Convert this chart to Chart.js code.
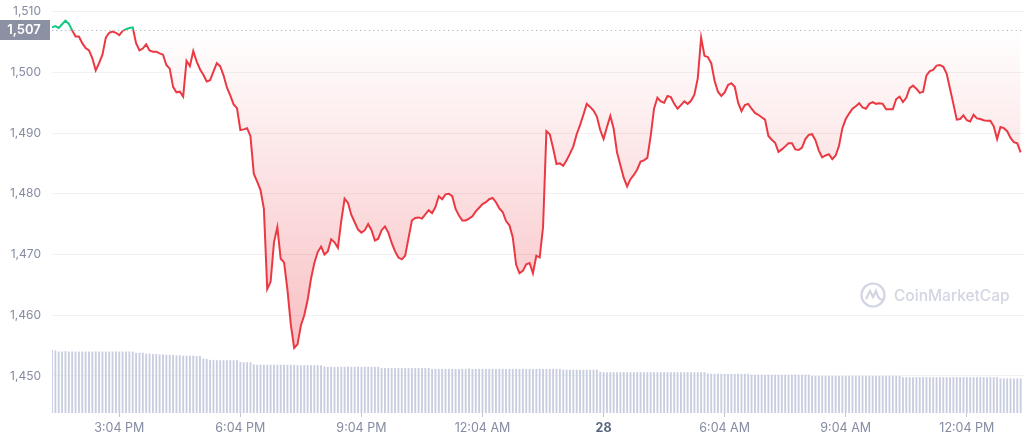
<!DOCTYPE html>
<html>
<head>
<meta charset="utf-8">
<script src="https://cdn.jsdelivr.net/npm/chart.js@4.4.1/dist/chart.umd.min.js"></script>
<style>
  html, body { margin: 0; padding: 0; background: #fff; }
  #wrap { width: 1024px; height: 441px; position: relative; }
</style>
</head>
<body>
<div id="wrap"><canvas id="priceChart"></canvas></div>
<script>
// 5 minute candles, 27 May 1:24 PM -> 28 May 1:24 PM
const startMinutes = 13 * 60 + 24;
const stepMinutes = 5;
const openPrice = 1507;

const price = [
    1507.4, 1507.6, 1507.3, 1507.9, 1508.5, 1508.0, 1506.9, 1505.9, 1505.9, 1504.8,
    1504.0, 1503.6, 1502.3, 1500.3, 1501.5, 1502.9, 1505.7, 1506.5, 1506.7, 1506.5,
    1506.1, 1506.8, 1507.1, 1507.3, 1507.4, 1504.8, 1503.6, 1503.9, 1504.6, 1503.6,
    1503.4, 1503.4, 1503.1, 1502.9, 1501.2, 1500.6, 1497.6, 1496.7, 1496.8, 1496.0,
    1501.9, 1501.0, 1503.5, 1501.8, 1500.5, 1499.6, 1498.5, 1498.7, 1500.1, 1501.5,
    1501.0, 1499.5, 1497.5, 1496.2, 1494.7, 1494.1, 1490.5, 1490.6, 1490.8, 1489.5,
    1483.3, 1482.0, 1480.6, 1477.5, 1464.3, 1465.5, 1472.0, 1474.5, 1469.3, 1468.7,
    1464.2, 1458.5, 1454.6, 1455.2, 1458.3, 1460.0, 1462.5, 1466.0, 1468.6, 1470.4,
    1471.3, 1470.0, 1470.5, 1472.5, 1472.0, 1471.1, 1475.5, 1479.2, 1478.5, 1476.5,
    1475.3, 1474.1, 1473.6, 1474.0, 1475.0, 1474.0, 1472.3, 1472.6, 1474.0, 1474.6,
    1473.6, 1471.9, 1470.5, 1469.5, 1469.2, 1469.8, 1472.7, 1475.6, 1476.0, 1476.1,
    1475.9, 1476.6, 1477.3, 1476.8, 1477.8, 1479.6, 1479.1, 1479.9, 1480.0, 1479.6,
    1477.5, 1476.4, 1475.6, 1475.6, 1475.9, 1476.3, 1477.1, 1477.7, 1478.3, 1478.6,
    1479.1, 1479.3, 1478.6, 1477.6, 1477.0, 1475.5, 1474.8, 1472.8, 1468.3, 1466.9,
    1467.3, 1468.4, 1468.6, 1466.9, 1469.8, 1469.5, 1474.5, 1490.3, 1489.8, 1487.5,
    1484.9, 1485.0, 1484.6, 1485.5, 1486.6, 1487.8, 1489.8, 1491.3, 1493.0, 1494.8,
    1494.3, 1493.7, 1492.7, 1490.5, 1489.0, 1491.0, 1492.8, 1490.7, 1486.8, 1484.7,
    1482.6, 1481.2, 1482.4, 1483.1, 1484.0, 1485.3, 1485.5, 1485.9, 1489.5, 1494.0,
    1495.8, 1495.2, 1495.0, 1496.1, 1495.9, 1494.8, 1494.0, 1494.6, 1495.2, 1494.8,
    1495.3, 1496.3, 1499.0, 1505.7, 1502.7, 1502.5, 1501.5, 1498.6, 1496.8, 1496.1,
    1496.7, 1497.9, 1498.2, 1497.6, 1495.0, 1493.6, 1494.6, 1494.8, 1494.0, 1493.3,
    1493.0, 1492.6, 1492.2, 1489.5, 1488.9, 1488.4, 1486.9, 1487.3, 1487.8, 1488.3,
    1488.3, 1487.3, 1487.2, 1487.6, 1489.0, 1489.7, 1489.8, 1488.8, 1487.1, 1486.0,
    1486.3, 1486.5, 1485.7, 1486.3, 1487.9, 1490.8, 1492.3, 1493.2, 1494.0, 1494.4,
    1494.9, 1494.2, 1494.0, 1494.8, 1495.1, 1494.8, 1494.9, 1494.8, 1493.9, 1493.9,
    1493.9, 1495.6, 1496.0, 1495.1, 1495.8, 1497.4, 1497.8, 1497.3, 1496.6, 1496.8,
    1499.5, 1500.2, 1500.4, 1501.1, 1501.2, 1500.9, 1499.8, 1497.3, 1494.8, 1492.2,
    1492.3, 1492.9, 1492.1, 1491.9, 1493.0, 1492.4, 1492.3, 1492.1, 1492.0, 1492.0,
    1491.1, 1489.0, 1491.0, 1490.8, 1490.3, 1489.2, 1488.5, 1488.3, 1486.8
];

// volume bars (relative units, hidden axis 0-100)
const volume = [
    15.2, 15.1, 14.8, 14.8, 14.9, 14.8, 14.8, 14.8, 14.8, 14.8,
    14.8, 14.8, 14.8, 14.8, 14.8, 14.8, 14.8, 14.8, 14.8, 14.8,
    14.8, 14.8, 14.8, 14.8, 14.8, 14.5, 14.5, 14.5, 14.3, 14.3,
    14.2, 14.2, 14.1, 14.1, 14.0, 14.0, 14.0, 13.9, 13.9, 13.8,
    13.8, 13.8, 13.8, 13.7, 13.7, 13.1, 13.0, 12.8, 12.7, 12.7,
    12.7, 12.7, 12.7, 12.7, 12.7, 12.7, 12.3, 12.2, 12.2, 12.2,
    11.7, 11.6, 11.6, 11.6, 11.6, 11.6, 11.6, 11.6, 11.6, 11.6,
    11.6, 11.6, 11.6, 11.5, 11.5, 11.5, 11.5, 11.5, 11.5, 11.5,
    11.5, 11.2, 11.1, 11.1, 11.1, 11.1, 11.1, 11.1, 11.2, 11.1,
    11.1, 11.1, 11.1, 11.1, 11.1, 11.1, 11.1, 11.1, 10.8, 10.8,
    10.8, 10.8, 10.8, 10.8, 10.8, 10.8, 10.8, 10.8, 10.8, 10.8,
    10.8, 10.8, 10.8, 10.6, 10.6, 10.6, 10.6, 10.6, 10.6, 10.6,
    10.6, 10.6, 10.6, 10.6, 10.7, 10.6, 10.6, 10.6, 10.6, 10.6,
    10.6, 10.6, 10.6, 10.6, 10.6, 10.6, 10.6, 10.6, 10.6, 10.6,
    10.6, 10.6, 10.6, 10.6, 10.6, 10.6, 10.6, 10.6, 10.6, 10.6,
    10.6, 10.6, 10.4, 10.4, 10.4, 10.4, 10.4, 10.4, 10.4, 10.4,
    10.4, 10.4, 10.4, 9.9, 9.8, 9.8, 9.8, 9.8, 9.8, 9.8,
    9.8, 9.8, 9.8, 9.8, 9.8, 9.8, 9.8, 9.8, 9.8, 9.8,
    9.8, 9.8, 9.8, 9.8, 9.8, 9.8, 9.8, 9.8, 9.8, 9.8,
    9.8, 9.8, 9.8, 9.8, 9.8, 9.5, 9.4, 9.4, 9.4, 9.4,
    9.4, 9.4, 9.4, 9.4, 9.4, 9.4, 9.4, 9.4, 9.2, 9.2,
    9.2, 9.2, 9.2, 9.2, 9.2, 9.2, 9.2, 9.2, 9.2, 9.2,
    9.2, 9.2, 9.2, 9.2, 9.2, 9.2, 8.9, 8.9, 8.9, 8.9,
    8.9, 8.9, 8.9, 8.9, 8.9, 8.9, 8.9, 8.9, 8.9, 8.9,
    8.9, 8.9, 8.9, 8.9, 8.9, 8.9, 8.9, 8.9, 8.9, 8.9,
    8.9, 8.9, 8.9, 8.6, 8.6, 8.6, 8.6, 8.6, 8.6, 8.6,
    8.6, 8.6, 8.6, 8.6, 8.6, 8.6, 8.6, 8.6, 8.6, 8.6,
    8.6, 8.6, 8.6, 8.6, 8.6, 8.6, 8.6, 8.6, 8.6, 8.6,
    8.6, 8.6, 8.3, 8.3, 8.3, 8.3, 8.3, 8.3, 8.3
];

const yTicks = [1450, 1460, 1470, 1480, 1490, 1500, 1510];
const xTickTimes = ['3:04 PM', '6:04 PM', '9:04 PM', '12:04 AM', '3:04 AM', '6:04 AM', '9:04 AM', '12:04 PM'];
const xTickText = ['3:04 PM', '6:04 PM', '9:04 PM', '12:04 AM', '28', '6:04 AM', '9:04 AM', '12:04 PM'];

const red = '#ea3943';
const green = '#16c784';
const fontFamily = 'Inter, "Noto Sans", Arial, sans-serif';

// one extra label so the axis runs on to the right edge
const timeLabels = [];
for (let i = 0; i <= price.length; i++) {
    const m = (startMinutes + i * stepMinutes) % 1440;
    const h = Math.floor(m / 60);
    const h12 = h % 12 === 0 ? 12 : h % 12;
    timeLabels.push(`${h12}:${String(m % 60).padStart(2, '0')} ${h < 12 ? 'AM' : 'PM'}`);
}

function baselineStop(chart) {
    const area = chart.chartArea;
    const yb = chart.scales.y.getPixelForValue(openPrice);
    return Math.min(Math.max((yb - area.top) / (area.bottom - area.top), 0), 1);
}

function lineColor(context) {
    const chart = context.chart;
    if (!chart.chartArea) return red;
    const stop = baselineStop(chart);
    const g = chart.ctx.createLinearGradient(0, chart.chartArea.top, 0, chart.chartArea.bottom);
    g.addColorStop(0, green);
    g.addColorStop(stop, green);
    g.addColorStop(stop, red);
    g.addColorStop(1, red);
    return g;
}

function fillColor(context) {
    const chart = context.chart;
    if (!chart.chartArea) return 'rgba(234,57,67,0.15)';
    const stop = baselineStop(chart);
    const g = chart.ctx.createLinearGradient(0, chart.chartArea.top, 0, chart.chartArea.bottom);
    g.addColorStop(0, 'rgba(22,199,132,0.12)');
    g.addColorStop(stop, 'rgba(22,199,132,0)');
    g.addColorStop(stop, 'rgba(234,57,67,0)');
    g.addColorStop(1, 'rgba(234,57,67,0.38)');
    return g;
}

// price badge, dotted open line and watermark
const overlayPlugin = {
    id: 'overlay',
    afterDraw(chart) {
        const ctx = chart.ctx;
        const area = chart.chartArea;
        const yb = Math.round(chart.scales.y.getPixelForValue(openPrice)) + 0.5;

        ctx.save();
        ctx.strokeStyle = '#aeb3c2';
        ctx.lineWidth = 1;
        ctx.setLineDash([1.2, 3.2]);
        ctx.beginPath();
        ctx.moveTo(area.left, yb);
        ctx.lineTo(area.right, yb);
        ctx.stroke();
        ctx.setLineDash([]);

        ctx.fillStyle = '#8b91a3';
        ctx.fillRect(0, yb - 10.5, 50, 20);
        ctx.fillStyle = '#fff';
        ctx.font = '600 13px ' + fontFamily;
        ctx.textAlign = 'center';
        ctx.textBaseline = 'middle';
        ctx.fillText(openPrice.toLocaleString('en-US'), 24, yb);

        // CoinMarketCap watermark
        const cx = 873, cy = 295;
        ctx.strokeStyle = '#d3d6e2';
        ctx.lineWidth = 2.2;
        ctx.beginPath();
        ctx.arc(cx, cy, 11.5, 0, Math.PI * 2);
        ctx.stroke();
        ctx.beginPath();
        ctx.moveTo(cx - 7, cy + 4);
        ctx.lineTo(cx - 3, cy - 4);
        ctx.lineTo(cx, cy + 2);
        ctx.lineTo(cx + 3, cy - 4);
        ctx.quadraticCurveTo(cx + 6, cy + 7, cx + 11, cy + 4);
        ctx.stroke();
        ctx.fillStyle = '#d3d6e2';
        ctx.font = '500 15.5px ' + fontFamily;
        ctx.textAlign = 'left';
        ctx.fillText('CoinMarketCap', 894, cy + 1);
        ctx.restore();
    }
};

const chart = new Chart(document.getElementById('priceChart'), {
    type: 'line',
    data: {
        labels: timeLabels,
        datasets: [{
            type: 'line',
            label: 'Price',
            data: price,
            yAxisID: 'y',
            borderColor: lineColor,
            backgroundColor: fillColor,
            borderWidth: 2,
            pointRadius: 0,
            tension: 0,
            fill: { target: { value: openPrice } },
            order: 0
        }, {
            type: 'bar',
            label: 'Volume',
            data: volume,
            yAxisID: 'yv',
            backgroundColor: '#c9cde0',
            barThickness: 1.2,
            order: 1
        }]
    },
    options: {
        responsive: true,
        maintainAspectRatio: false,
        animation: false,
        layout: { padding: 0 },
        plugins: {
            legend: { display: false },
            tooltip: { enabled: false }
        },
        scales: {
            x: {
                type: 'category',
                offset: false,
                border: { display: false },
                grid: {
                    offset: false,
                    drawOnChartArea: false,
                    tickLength: 4,
                    color: ctx => (ctx.tick && ctx.tick.label) ? '#c3c7d3' : 'rgba(0,0,0,0)'
                },
                ticks: {
                    autoSkip: false,
                    maxRotation: 0,
                    padding: 4,
                    callback: function(value) {
                        const k = xTickTimes.indexOf(this.getLabelForValue(value));
                        return k >= 0 ? xTickText[k] : null;
                    },
                    color: ctx => (ctx.tick && ctx.tick.label === '28') ? '#58667e' : '#858ca2',
                    font: ctx => ({
                        family: fontFamily,
                        size: 12.5,
                        weight: (ctx.tick && ctx.tick.label === '28') ? 'bold' : 'normal'
                    })
                },
                afterFit(scale) {
                    scale.height = 28;
                    scale.paddingLeft = 0;
                    scale.paddingRight = 0;
                }
            },
            y: {
                position: 'left',
                min: 1443.9,
                max: 1511.9,
                border: { display: false },
                grid: {
                    drawTicks: false,
                    color: 'rgba(0,0,0,0.055)'
                },
                afterBuildTicks(scale) {
                    scale.ticks = yTicks.map(v => ({ value: v }));
                },
                ticks: {
                    padding: 11,
                    color: '#858ca2',
                    font: { family: fontFamily, size: 12 },
                    callback: v => v.toLocaleString('en-US')
                },
                afterFit(scale) {
                    scale.width = 52;
                    scale.paddingTop = 0;
                    scale.paddingBottom = 0;
                }
            },
            yv: {
                display: false,
                min: 0,
                max: 100
            }
        }
    },
    plugins: [overlayPlugin]
});
</script>
</body>
</html>
